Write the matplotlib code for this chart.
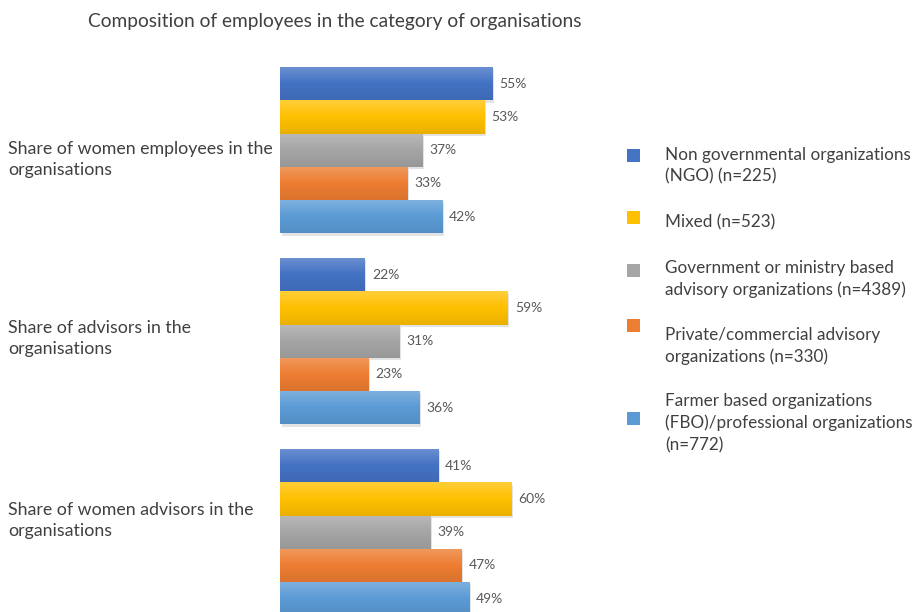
import numpy as np
import matplotlib
matplotlib.use('Agg')
import matplotlib.pyplot as plt
from matplotlib.colors import LinearSegmentedColormap, to_rgb
from matplotlib.patches import Rectangle
from matplotlib.transforms import blended_transform_factory

plt.rcParams['font.family'] = ['Lato', 'DejaVu Sans']

categories = [
    'Share of women employees in the\norganisations',
    'Share of advisors in the\norganisations',
    'Share of women advisors in the\norganisations',
]
series_names = [
    'Non governmental organizations\n(NGO) (n=225)',
    'Mixed (n=523)',
    'Government or ministry based\nadvisory organizations (n=4389)',
    'Private/commercial advisory\norganizations (n=330)',
    'Farmer based organizations\n(FBO)/professional organizations\n(n=772)',
]
ngo = [55, 22, 41]
mixed = [53, 59, 60]
government = [37, 31, 39]
private = [33, 23, 47]
fbo = [42, 36, 49]
series_values = [ngo, mixed, government, private, fbo]
colors = ['#4472C4', '#FFC000', '#A5A5A5', '#ED7D31', '#5B9BD5']


def shade(color, factor):
    r, g, b = to_rgb(color)
    if factor >= 0:
        return (r + (1 - r) * factor, g + (1 - g) * factor, b + (1 - b) * factor)
    return (r * (1 + factor), g * (1 + factor), b * (1 + factor))


fig = plt.figure(figsize=(9.14, 6.12), dpi=100)
W, H = 914, 612
# axes spans from the first bar top to the bottom of the figure
ax = fig.add_axes([280 / W, 0.0, 390 / W, 552 / H])

bar_h = 0.174
group_pos = np.arange(len(categories))
grad = np.linspace(0, 1, 64).reshape(-1, 1)

for s, (vals, col) in enumerate(zip(series_values, colors)):
    y = group_pos + (s - 2) * bar_h
    bars = ax.barh(y, vals, height=bar_h, color=col, edgecolor='none', zorder=2)
    cmap = LinearSegmentedColormap.from_list(
        f'g{s}', [shade(col, 0.22), col, shade(col, -0.08)])
    for bar, v, yy in zip(bars, vals, y):
        # soft drop shadow
        ax.add_patch(Rectangle((0.4, yy - bar_h / 2 + 0.012), v, bar_h,
                               facecolor='0.82', edgecolor='none', zorder=1, alpha=0.6))
        im = ax.imshow(grad, extent=(0, v, yy + bar_h / 2, yy - bar_h / 2),
                       cmap=cmap, aspect='auto', zorder=3, interpolation='bilinear')
        im.set_clip_path(bar)
        ax.text(v + 1.8, yy, f'{v}%', va='center', ha='left',
                fontsize=10, color='#595959', zorder=4)

ax.set_xlim(0, 101)
ax.set_ylim(2.418, -0.472)
ax.axis('off')

# category labels on the left
label_trans = blended_transform_factory(fig.transFigure, ax.transData)
label_offsets = [0.05, -0.015, -0.06]
for g, (cat, off) in enumerate(zip(categories, label_offsets)):
    ax.text(8 / W, g + off, cat, transform=label_trans,
            ha='left', va='center', fontsize=12.8, color='#404040', linespacing=1.42)

fig.text(335 / W, 1 - 22 / H, 'Composition of employees in the category of organisations',
         ha='center', va='center', fontsize=13.8, color='#404040')

# legend
marker_y = [155, 217, 270, 325, 418]
text_y = [166, 222, 279, 346, 423]
for name, col, my, ty in zip(series_names, colors, marker_y, text_y):
    fig.add_artist(Rectangle((627 / W, 1 - (my + 7) / H), 13 / W, 13 / H,
                             transform=fig.transFigure, facecolor=col, edgecolor='none'))
    fig.text(665 / W, 1 - ty / H, name, ha='left', va='center',
             fontsize=12.3, color='#404040', linespacing=1.42)

fig.savefig('out.png', dpi=100)
